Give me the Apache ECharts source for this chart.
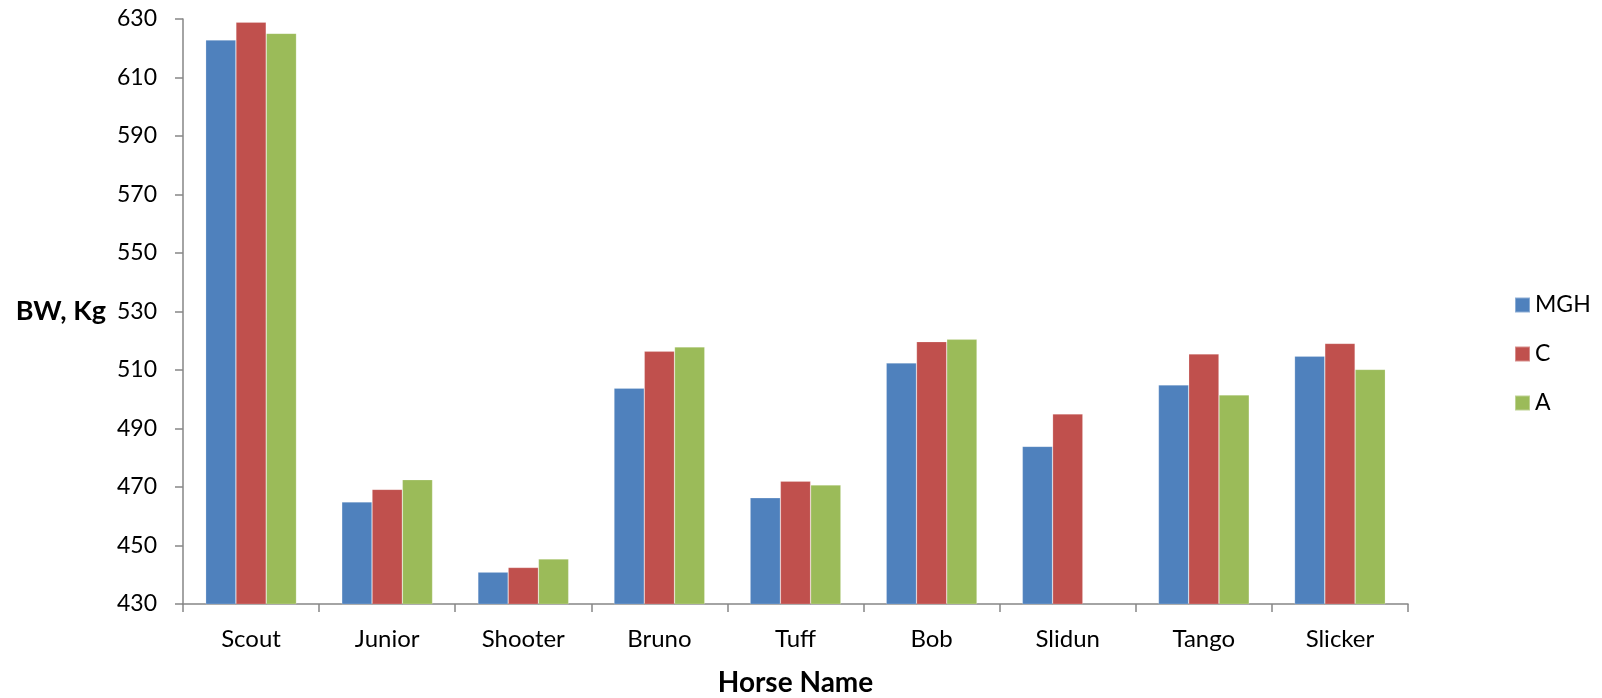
<!DOCTYPE html>
<html>
<head>
<meta charset="utf-8">
<title>Horse body weight</title>
<script src="https://cdn.jsdelivr.net/npm/echarts@6/dist/echarts.min.js"></script>
<style>
  html, body { margin: 0; padding: 0; background: #fff; }
  #chart { width: 1602px; height: 698px; }
</style>
</head>
<body>
<div id="chart"></div>
<script>
// Body weight (kg) per horse, three estimation methods
const horses = ['Scout', 'Junior', 'Shooter', 'Bruno', 'Tuff', 'Bob', 'Slidun', 'Tango', 'Slicker'];
const mgh = [622.8, 464.9, 440.9, 503.8, 466.3, 512.4, 483.9, 504.9, 514.7];
const cVals = [628.9, 469.2, 442.5, 516.4, 472.0, 519.7, 495.0, 515.5, 519.1];
const aVals = [625.1, 472.5, 445.4, 517.9, 470.7, 520.5, null, 501.5, 510.2];
const yTicks = [430, 450, 470, 490, 510, 530, 550, 570, 590, 610, 630];

const FONT = 'Lato, "Open Sans", sans-serif';
const axisGray = '#868686';

const chart = echarts.init(document.getElementById('chart'));

function barSeries(name, data, color) {
  return {
    name: name,
    type: 'bar',
    data: data,
    barGap: '0%',
    barCategoryGap: '33.3%',
    itemStyle: { color: color, borderColor: 'rgba(255,255,255,0.35)', borderWidth: 0.6 },
    emphasis: { disabled: true }
  };
}

chart.setOption({
  animation: false,
  textStyle: { fontFamily: FONT },
  grid: { left: 183, right: 194, top: 19, bottom: 94, containLabel: false, outerBoundsMode: 'none' },
  legend: {
    orient: 'vertical',
    left: 1509,
    top: 288,
    icon: 'rect',
    itemWidth: 15,
    itemHeight: 15,
    itemGap: 25,
    textStyle: { fontFamily: FONT, fontSize: 23, color: '#000', lineHeight: 24, padding: [0, 0, 0, 0] },
    data: ['MGH', 'C', 'A']
  },
  xAxis: {
    type: 'category',
    data: horses,
    name: 'Horse Name',
    nameLocation: 'middle',
    nameGap: 65,
    nameTextStyle: { fontFamily: FONT, fontSize: 28, fontWeight: 'bold', color: '#000' },
    axisLine: { lineStyle: { color: axisGray, width: 1.5 } },
    axisTick: { show: true, length: 8, inside: false, alignWithLabel: false, lineStyle: { color: axisGray, width: 1.5 } },
    axisLabel: { fontFamily: FONT, fontSize: 24, color: '#000', margin: 23 },
    splitLine: { show: false }
  },
  yAxis: {
    type: 'value',
    min: yTicks[0],
    max: yTicks[yTicks.length - 1],
    interval: 20,
    name: 'BW, Kg',
    nameLocation: 'middle',
    nameRotate: 0,
    nameGap: 77,
    nameTextStyle: { fontFamily: FONT, fontSize: 27, fontWeight: 'bold', color: '#000' },
    axisLine: { show: true, lineStyle: { color: axisGray, width: 1.5 } },
    axisTick: { show: true, length: 8, lineStyle: { color: axisGray, width: 1.5 } },
    axisLabel: { fontFamily: FONT, fontSize: 23, color: '#000', margin: 26 },
    splitLine: { show: false }
  },
  series: [
    barSeries('MGH', mgh, '#4F81BD'),
    barSeries('C', cVals, '#C0504D'),
    barSeries('A', aVals, '#9BBB59')
  ]
});
</script>
</body>
</html>
